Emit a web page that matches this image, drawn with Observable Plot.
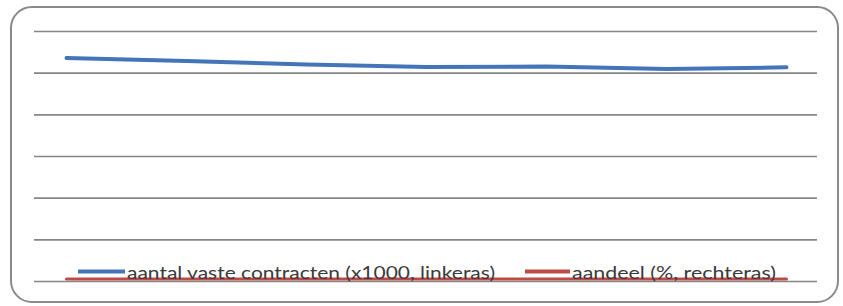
<!DOCTYPE html>
<html>
<head>
<meta charset="utf-8">
<script src="https://cdn.jsdelivr.net/npm/d3@7"></script>
<script src="https://cdn.jsdelivr.net/npm/@observablehq/plot@0.6"></script>
<style>
  html, body { margin: 0; padding: 0; background: #fff; }
  #wrap { position: relative; width: 843px; height: 306px; overflow: hidden; }
  #border { position: absolute; left: 10px; top: 6px; width: 825px; height: 293px;
            border: 2px solid #8a8a8a; border-radius: 22px; box-sizing: content-box; }
  #chart { position: absolute; left: 0; top: 0; }
</style>
</head>
<body>
<div id="wrap"><div id="border"></div><div id="chart"></div></div>
<script>
// Data
const years = ["2007", "2008", "2009", "2010", "2011", "2012", "2013"];
const vasteContracten = [5363, 5291, 5207, 5147, 5159, 5099, 5140]; // x1000
const aandeel = [62, 61, 60, 60, 60, 59, 59]; // %
const yTicks = [0, 1000, 2000, 3000, 4000, 5000, 6000];
const seriesLabels = ["aantal vaste contracten (x1000, linkeras)", "aandeel (%, rechteras)"];
const seriesColors = ["#4575b9", "#be4b48"];

const blue = years.map((yr, i) => ({year: yr, value: vasteContracten[i]}));
const red = years.map((yr, i) => ({year: yr, value: aandeel[i]}));

const chart = Plot.plot({
  width: 843,
  height: 306,
  marginLeft: 34,
  marginRight: 26,
  marginTop: 31,
  marginBottom: 25,
  style: {background: "transparent"},
  x: {type: "point", domain: years, padding: 0, insetLeft: 30, insetRight: 29, axis: null},
  y: {domain: [0, 6000], axis: null},
  marks: [
    Plot.ruleY(yTicks, {stroke: "#868686", strokeWidth: 1.6}),
    Plot.line(blue, {x: "year", y: "value", stroke: seriesColors[0], strokeWidth: 4, strokeLinejoin: "round", strokeLinecap: "round"}),
    Plot.line(red, {x: "year", y: "value", stroke: seriesColors[1], strokeWidth: 3})
  ]
});
document.getElementById("chart").appendChild(chart);

// Legend overlaid at the bottom of the plot area (as in the original)
const svg = d3.select(chart);
const lg = svg.append("g")
  .attr("font-family", "Lato, 'Open Sans', sans-serif")
  .attr("font-size", 18)
  .attr("text-anchor", "start")
  .attr("fill", "#3a3a3a");
const items = [
  {sx0: 78, sx1: 125, tx: 127, tw: 368},
  {sx0: 525, sx1: 570, tx: 572, tw: 204}
];
items.forEach((it, i) => {
  lg.append("line").attr("x1", it.sx0).attr("x2", it.sx1).attr("y1", 271.5).attr("y2", 271.5)
    .attr("stroke", seriesColors[i]).attr("stroke-width", 4);
  lg.append("text").attr("x", it.tx).attr("y", 279)
    .attr("text-anchor", "start")
    .attr("textLength", it.tw).attr("lengthAdjust", "spacingAndGlyphs")
    .text(seriesLabels[i]);
});
</script>
</body>
</html>
